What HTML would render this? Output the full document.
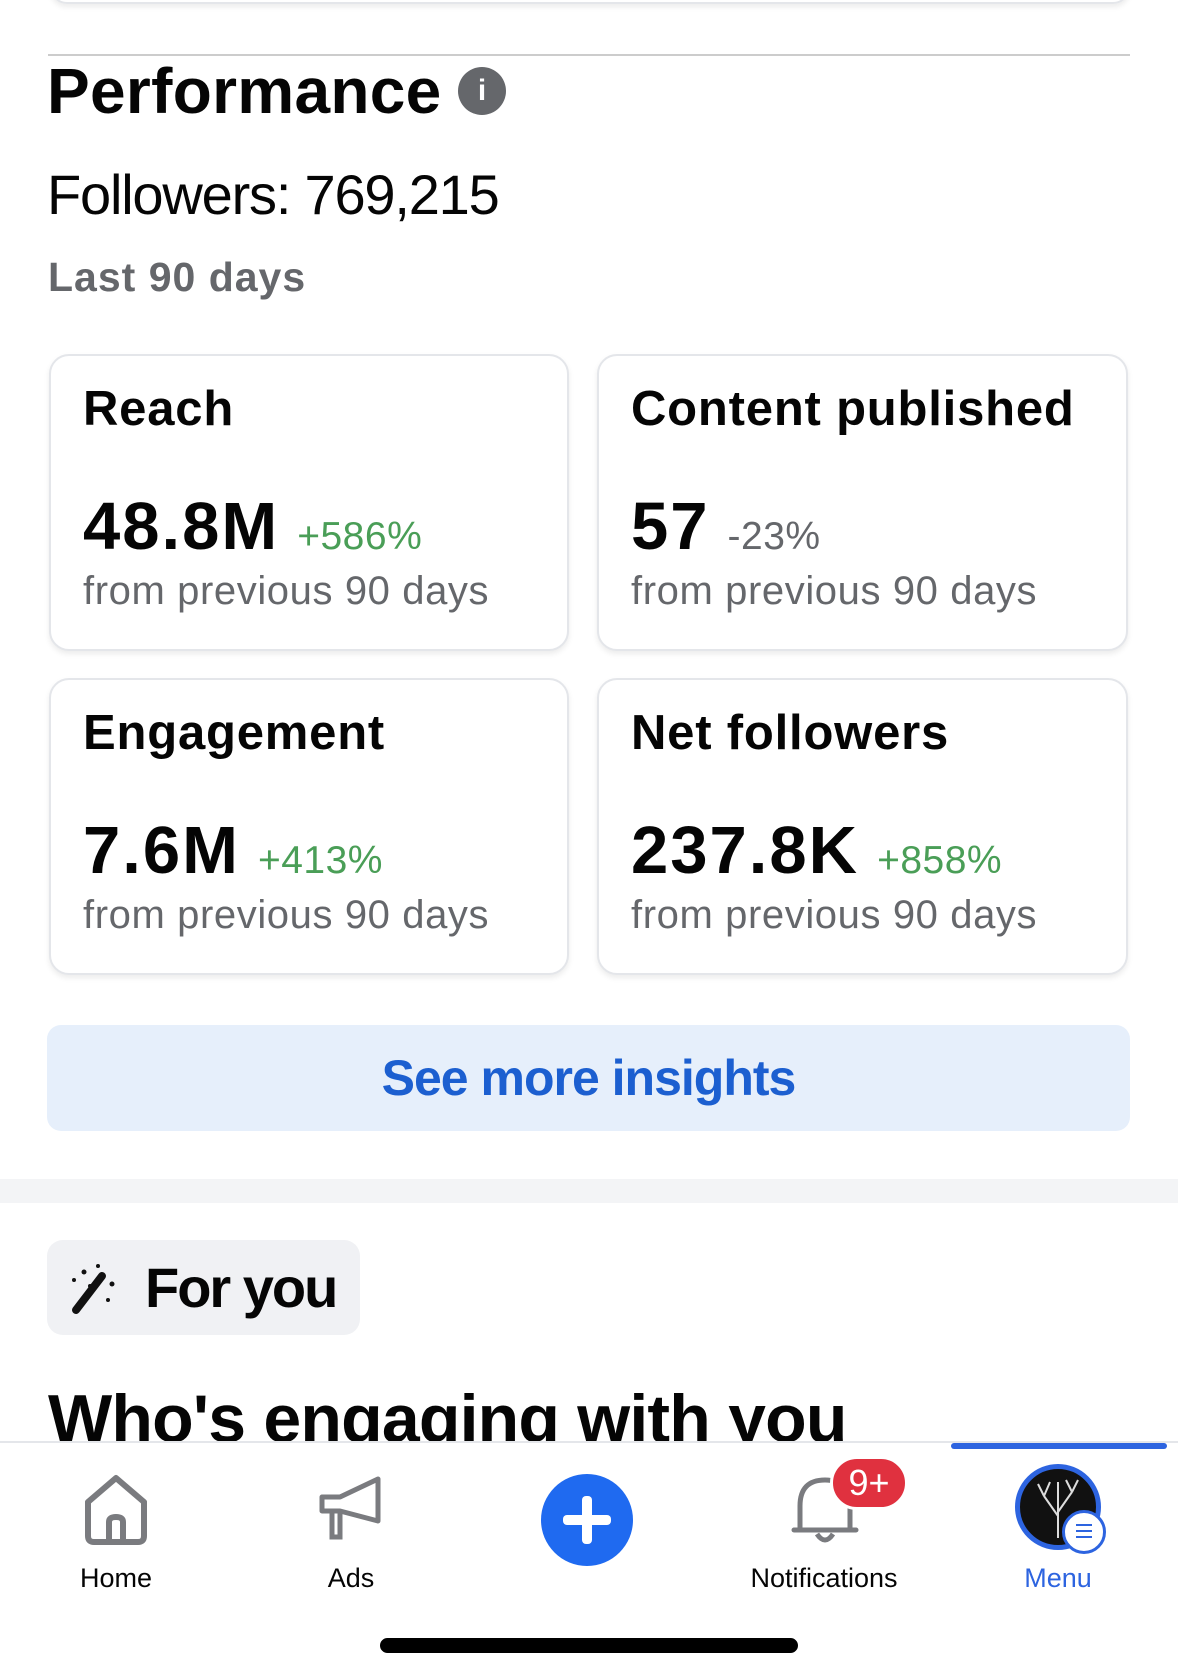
<!DOCTYPE html>
<html><head><meta charset="utf-8"><style>
*{margin:0;padding:0;box-sizing:border-box}
body{width:1178px;height:1677px;background:#fff;position:relative;overflow:hidden;font-family:"Liberation Sans",sans-serif;color:#050505}
.a{position:absolute;white-space:nowrap}
.card{position:absolute;border:2px solid #e4e6ea;border-radius:20px;background:#fff;box-shadow:0 3px 6px rgba(0,0,0,.08)}
.t{position:absolute;left:32px;top:25px;font-weight:bold;font-size:49px;letter-spacing:0.8px}
.n{position:absolute;left:32px;top:132px;font-weight:bold;font-size:67px;letter-spacing:2px}
.n span{font-weight:normal;font-size:39px;color:#4a9e57;margin-left:18px;letter-spacing:0.5px}
.n span.g{color:#65676b}
.f{position:absolute;left:32px;top:213px;font-size:40px;color:#65676b;letter-spacing:0.6px}
.lab{position:absolute;top:1563px;font-size:27px;transform:translateX(-50%)}
</style></head><body>
<div class="a" style="left:50px;top:-30px;width:1080px;height:34px;border:2px solid #e4e6ea;border-radius:20px;box-shadow:0 3px 6px rgba(0,0,0,.08)"></div>
<div class="a" style="left:48px;top:54px;width:1082px;height:2px;background:#ccc"></div>
<div class="a" style="left:47px;top:54px;font-size:64px;font-weight:bold;letter-spacing:0.3px">Performance</div>
<div class="a" style="left:458px;top:67px;width:48px;height:48px;border-radius:50%;background:#65676b;color:#fff;font-weight:bold;font-size:30px;text-align:center;line-height:48px">i</div>
<div class="a" style="left:47px;top:162px;font-size:56px;letter-spacing:-1.2px">Followers: 769,215</div>
<div class="a" style="left:48px;top:254px;font-size:41px;font-weight:bold;color:#65676b;letter-spacing:1px">Last 90 days</div>

<div class="card" style="left:49px;top:354px;width:520px;height:297px">
<div class="t">Reach</div><div class="n">48.8M<span>+586%</span></div><div class="f">from previous 90 days</div></div>
<div class="card" style="left:597px;top:354px;width:531px;height:297px">
<div class="t">Content published</div><div class="n">57<span class="g">-23%</span></div><div class="f">from previous 90 days</div></div>
<div class="card" style="left:49px;top:678px;width:520px;height:297px">
<div class="t">Engagement</div><div class="n">7.6M<span>+413%</span></div><div class="f">from previous 90 days</div></div>
<div class="card" style="left:597px;top:678px;width:531px;height:297px">
<div class="t">Net followers</div><div class="n">237.8K<span>+858%</span></div><div class="f">from previous 90 days</div></div>

<div class="a" style="left:47px;top:1025px;width:1083px;height:106px;background:#e6effb;border-radius:14px;text-align:center;line-height:106px;font-size:50px;font-weight:bold;color:#1c5fd0;letter-spacing:-1px">See more insights</div>
<div class="a" style="left:0;top:1179px;width:1178px;height:24px;background:#f3f4f6"></div>

<div class="a" style="left:47px;top:1240px;width:313px;height:95px;background:#f0f1f4;border-radius:16px"></div>
<svg class="a" style="left:68px;top:1262px" width="52" height="56" viewBox="0 0 52 56"><line x1="8" y1="48" x2="34" y2="14" stroke="#111" stroke-width="8" stroke-linecap="round"/><circle cx="6" cy="18" r="2" fill="#111"/><circle cx="16" cy="10" r="2.5" fill="#111"/><circle cx="30" cy="4" r="2" fill="#111"/><circle cx="44" cy="22" r="2.5" fill="#111"/><circle cx="40" cy="38" r="2" fill="#111"/><circle cx="22" cy="24" r="2" fill="#111"/></svg>
<div class="a" style="left:145px;top:1255px;font-size:56px;font-weight:bold;letter-spacing:-2px">For you</div>

<div class="a" style="left:0;top:1380px;width:1178px;height:61px;overflow:hidden"><div class="a" style="left:48px;top:0px;font-size:68px;font-weight:bold;letter-spacing:-0.8px">Who's engaging with you</div></div>
<div class="a" style="left:0;top:1441px;width:1178px;height:2px;background:#e4e6ea"></div>
<div class="a" style="left:951px;top:1443px;width:216px;height:6px;background:#2d64e0;border-radius:3px"></div>

<svg class="a" style="left:82px;top:1472px" width="68" height="74" viewBox="0 0 68 74"><path d="M6 30 L34 6 L62 30 L62 64 Q62 70 56 70 L12 70 Q6 70 6 64 Z" fill="none" stroke="#7a7b7f" stroke-width="6" stroke-linejoin="round"/><path d="M27 70 L27 50 Q27 45 34 45 Q41 45 41 50 L41 70" fill="none" stroke="#7a7b7f" stroke-width="6"/></svg>
<svg class="a" style="left:318px;top:1475px" width="66" height="66" viewBox="0 0 66 66"><path d="M4 22 L22 22 L60 4 L60 46 L22 36 L4 36 Z" fill="none" stroke="#7a7b7f" stroke-width="5" stroke-linejoin="round"/><path d="M14 36 L14 62 L22 62 L22 36" fill="none" stroke="#7a7b7f" stroke-width="5"/></svg>
<div class="a" style="left:541px;top:1474px;width:92px;height:92px;border-radius:50%;background:#1f6af0"></div>
<div class="a" style="left:563px;top:1515px;width:48px;height:10px;background:#fff;border-radius:4px"></div>
<div class="a" style="left:582px;top:1496px;width:10px;height:48px;background:#fff;border-radius:4px"></div>
<svg class="a" style="left:790px;top:1470px" width="70" height="76" viewBox="0 0 70 76"><path d="M10 60 L10 36 Q10 10 35 10 Q60 10 60 36 L60 60 Z" fill="none" stroke="#7a7b7f" stroke-width="5" stroke-linejoin="round"/><line x1="4" y1="60" x2="66" y2="60" stroke="#7a7b7f" stroke-width="5" stroke-linecap="round"/><path d="M27 64 Q35 76 43 64" fill="none" stroke="#7a7b7f" stroke-width="5"/></svg>
<div class="a" style="left:830px;top:1456px;width:78px;height:54px;border-radius:27px;background:#e0313f;border:3px solid #fff;color:#fff;font-size:36px;text-align:center;line-height:48px">9+</div>
<div class="a" style="left:1015px;top:1464px;width:86px;height:86px;border-radius:50%;background:#111;border:5px solid #2d64e0"></div>
<svg class="a" style="left:1030px;top:1476px" width="56" height="64" viewBox="0 0 56 64"><path d="M28 62 L28 30 M28 40 L14 20 M28 36 L42 16 M14 20 L8 8 M14 20 L20 6 M42 16 L48 4 M42 16 L36 4 M28 30 L28 6" stroke="#ddd" stroke-width="2" fill="none"/></svg>
<div class="a" style="left:1062px;top:1510px;width:44px;height:44px;border-radius:50%;background:#fff;border:3px solid #2d64e0"></div>
<div class="a" style="left:1076px;top:1524px;width:16px;height:2px;background:#2d64e0;box-shadow:0 6px 0 #2d64e0,0 12px 0 #2d64e0"></div>

<div class="lab" style="left:116px">Home</div>
<div class="lab" style="left:351px">Ads</div>
<div class="lab" style="left:824px">Notifications</div>
<div class="lab" style="left:1058px;color:#2d64e0">Menu</div>
<div class="a" style="left:380px;top:1638px;width:418px;height:15px;background:#000;border-radius:8px"></div>
</body></html>
